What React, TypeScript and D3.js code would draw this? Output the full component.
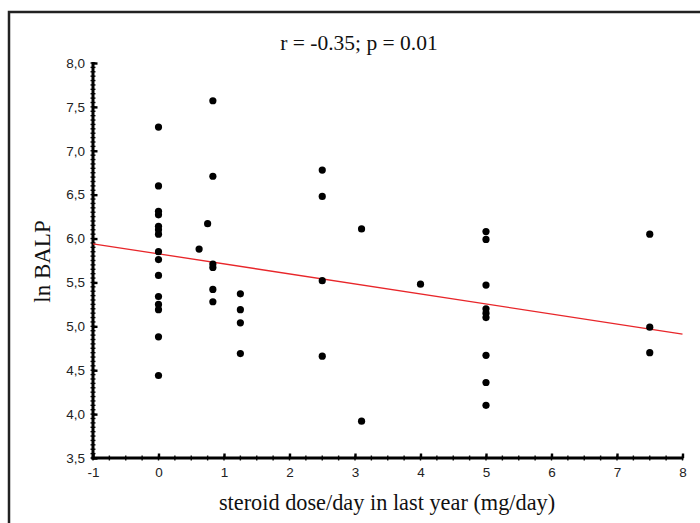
import React, { useEffect, useRef } from 'react';
import { select, scaleLinear, axisLeft, axisBottom, range, format, line } from 'd3';

// steroid dose per day (mg/day) and ln BALP for each patient
const doses = [
  0, 0, 0, 0, 0, 0, 0, 0, 0, 0, 0, 0, 0, 0, 0,
  0.62, 0.75,
  0.83, 0.83, 0.83, 0.83, 0.83, 0.83,
  1.25, 1.25, 1.25, 1.25,
  2.5, 2.5, 2.5, 2.5,
  3.1, 3.1,
  4,
  5, 5, 5, 5, 5, 5, 5, 5, 5,
  7.5, 7.5, 7.5
];
const lnBalp = [
  7.27, 6.6, 6.31, 6.27, 6.14, 6.1, 6.05, 5.85, 5.76, 5.58, 5.34, 5.25, 5.19, 4.88, 4.44,
  5.88, 6.17,
  7.57, 6.71, 5.71, 5.67, 5.42, 5.28,
  5.37, 5.19, 5.04, 4.69,
  6.78, 6.48, 5.52, 4.66,
  6.11, 3.92,
  5.48,
  6.08, 5.99, 5.47, 5.2, 5.15, 5.1, 4.67, 4.36, 4.1,
  6.05, 4.99, 4.7
];
// fitted line
const fitIntercept = 5.826;
const fitSlope = -0.1144;

const xTicks = [-1, 0, 1, 2, 3, 4, 5, 6, 7, 8];
const yTicks = [3.5, 4, 4.5, 5, 5.5, 6, 6.5, 7, 7.5, 8];

const W = 700;
const H = 523;
const left = 93;
const right = 682.5;
const top = 63;
const bottom = 458;

function App() {
  const svgRef = useRef(null);

  useEffect(() => {
    const svg = select(svgRef.current);
    svg.selectAll('*').remove();

    const x = scaleLinear().domain([-1, 8]).range([left, right]);
    const y = scaleLinear().domain([3.5, 8]).range([bottom, top]);
    const fmt = (d) => format('.1f')(d).replace('.', ',');

    // frame
    svg.append('rect')
      .attr('x', 9).attr('y', 12)
      .attr('width', 700).attr('height', 520)
      .attr('fill', 'none')
      .attr('stroke', '#222')
      .attr('stroke-width', 2.5);

    // minor ticks
    const minorY = range(3.5, 8.001, 0.05);
    svg.append('g').selectAll('line')
      .data(minorY).enter().append('line')
      .attr('x1', left - 2.5).attr('x2', left + 2.5)
      .attr('y1', d => y(d)).attr('y2', d => y(d))
      .attr('stroke', '#111').attr('stroke-width', 1.4);
    const minorX = range(-1, 8.001, 0.25);
    svg.append('g').selectAll('line')
      .data(minorX).enter().append('line')
      .attr('x1', d => x(d)).attr('x2', d => x(d))
      .attr('y1', bottom - 2.5).attr('y2', bottom + 2.5)
      .attr('stroke', '#111').attr('stroke-width', 1.4);

    const gy = svg.append('g')
      .attr('transform', `translate(${left},0)`)
      .call(axisLeft(y).tickValues(yTicks).tickSize(-4.5).tickSizeOuter(0).tickPadding(8).tickFormat(fmt));
    const gx = svg.append('g')
      .attr('transform', `translate(0,${bottom})`)
      .call(axisBottom(x).tickValues(xTicks).tickSize(-4.5).tickSizeOuter(0).tickPadding(9).tickFormat(d => String(d)));

    [gy, gx].forEach(g => {
      g.select('.domain').remove();
      g.selectAll('.tick line').attr('stroke', '#000').attr('stroke-width', 2.4);
      g.selectAll('.tick text')
        .attr('fill', '#222')
        .style('font-family', '"Liberation Sans", Arial, sans-serif')
        .style('font-size', '13.5px');
    });

    // axis lines
    svg.append('line')
      .attr('x1', left).attr('x2', left)
      .attr('y1', top - 1).attr('y2', bottom + 1.5)
      .attr('stroke', '#000').attr('stroke-width', 3);
    svg.append('line')
      .attr('x1', left - 1.5).attr('x2', right + 1)
      .attr('y1', bottom).attr('y2', bottom)
      .attr('stroke', '#000').attr('stroke-width', 3);

    // regression line
    const fit = line()
      .x(d => x(d))
      .y(d => y(fitIntercept + fitSlope * d));
    svg.append('path')
      .datum([-1, 8])
      .attr('d', fit)
      .attr('fill', 'none')
      .attr('stroke', '#e8262a')
      .attr('stroke-width', 1.3);

    // points
    svg.append('g').selectAll('circle')
      .data(doses.map((d, i) => [d, lnBalp[i]]))
      .enter().append('circle')
      .attr('cx', d => x(d[0]))
      .attr('cy', d => y(d[1]))
      .attr('r', 3.6)
      .attr('fill', '#000');

    const serif = '"Liberation Serif", "Times New Roman", serif';
    svg.append('text')
      .attr('x', 359).attr('y', 50)
      .attr('text-anchor', 'middle')
      .style('font-family', serif)
      .style('font-size', '21.5px')
      .attr('fill', '#111')
      .text('r = -0.35; p = 0.01');

    svg.append('text')
      .attr('transform', `translate(50,${(top + bottom) / 2 + 1}) rotate(-90)`)
      .attr('text-anchor', 'middle')
      .style('font-family', serif)
      .style('font-size', '23px')
      .attr('fill', '#111')
      .text('ln BALP');

    svg.append('text')
      .attr('x', 387).attr('y', 510)
      .attr('text-anchor', 'middle')
      .style('font-family', serif)
      .style('font-size', '22.3px')
      .attr('fill', '#111')
      .text('steroid dose/day in last year (mg/day)');
  });

  return (
    <svg
      ref={svgRef}
      width={W}
      height={H}
      style={{ position: 'absolute', left: 0, top: 0, background: '#fff' }}
    />
  );
}

export default App;
